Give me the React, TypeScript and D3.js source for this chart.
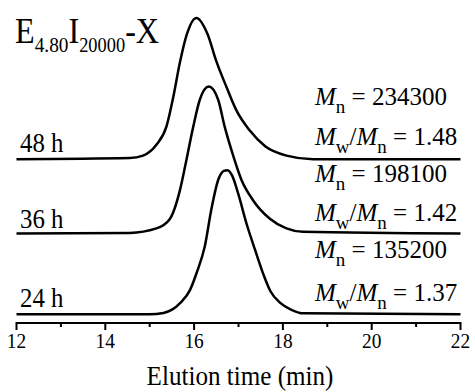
import * as d3 from "d3"

// elution time (min) and normalised RI signal for each sample
const t24 = [12, 15.0, 15.31, 15.69, 15.91, 16.06, 16.24, 16.39, 16.54, 16.67, 16.75, 16.86, 16.99, 17.18, 17.37, 17.57, 17.72, 17.94, 18.17, 18.47, 22]
const s24 = [0, 0, 0.01, 0.08, 0.17, 0.29, 0.47, 0.73, 0.93, 0.995, 1.0, 0.96, 0.84, 0.63, 0.45, 0.27, 0.16, 0.08, 0.035, 0.007, 0]
const t36 = [12, 14.55, 15.15, 15.45, 15.68, 15.8, 15.98, 16.13, 16.33, 16.54, 16.69, 16.84, 17.07, 17.33, 17.7, 18.08, 18.45, 22]
const s36 = [0, 0.005, 0.036, 0.1, 0.3, 0.47, 0.74, 0.93, 1.02, 0.93, 0.74, 0.58, 0.37, 0.23, 0.105, 0.036, 0.012, 0]
const t48 = [12, 14.55, 14.85, 15.15, 15.38, 15.53, 15.68, 15.83, 16.05, 16.3, 16.5, 16.73, 16.95, 17.25, 17.6, 18.08, 18.68, 22]
const s48 = [0, 0.008, 0.025, 0.1, 0.23, 0.43, 0.67, 0.86, 0.98, 0.87, 0.68, 0.5, 0.34, 0.2, 0.09, 0.025, 0, 0]

const labels = ["24 h", "36 h", "48 h"]
const offsets = [0, 0.56, 1.076]
const mnValues = ["135200", "198100", "234300"]
const pdiValues = ["1.37", "1.42", "1.48"]
const xTicks = [12, 14, 16, 18, 20, 22]
const xMinor = [13, 15, 17, 19, 21]

const W = 475
const H = 392
const FONT = "Liberation Serif, Times New Roman, serif"

const x = d3.scaleLinear().domain([12, 22]).range([16.5, 460.5])
const y = d3.scaleLinear().domain([-0.06, 2.18]).range([323, 0])

type Pt = { t: number; v: number }
const series: Pt[][] = [
  t24.map((t, i) => ({ t, v: s24[i] })),
  t36.map((t, i) => ({ t, v: s36[i] })),
  t48.map((t, i) => ({ t, v: s48[i] })),
]

// text with a horizontal squeeze factor
function T({ x, y, size, children, anchor = "start", sx = 1 }: any) {
  return (
    <g transform={`translate(${x},${y}) scale(${sx},1)`}>
      <text x={0} y={0} fontSize={size} textAnchor={anchor} fontFamily={FONT} fill="#000">
        {children}
      </text>
    </g>
  )
}

export default function App() {
  const line = (off: number) =>
    d3.line<Pt>().x(d => x(d.t)).y(d => y(d.v + off)).curve(d3.curveMonotoneX)

  // baselines of the annotation rows
  const mnY = [258, 182, 105]
  const pdiY = [301, 221, 145]
  const labY = [307, 228, 152]

  return (
    <svg width={W} height={H} style={{ position: "absolute", left: 0, top: 0, background: "#fff" }}>
      {series.map((d, i) => (
        <path key={i} d={line(offsets[i])(d) || ""} fill="none" stroke="#000" strokeWidth={2.5} strokeLinejoin="round" />
      ))}

      {labels.map((l, i) => (
        <T key={l} x={20} y={labY[i]} size={27} sx={0.92}>{l}</T>
      ))}

      {mnValues.map((m, i) => (
        <T key={m} x={315} y={mnY[i]} size={25}>
          <tspan fontStyle="italic">M</tspan>
          <tspan fontSize={19} dy={8}>n</tspan>
          <tspan dy={-8}> = {m}</tspan>
        </T>
      ))}
      {pdiValues.map((p, i) => (
        <T key={p} x={315} y={pdiY[i]} size={25}>
          <tspan fontStyle="italic">M</tspan>
          <tspan fontSize={19} dy={8}>w</tspan>
          <tspan dy={-8}>/</tspan>
          <tspan fontStyle="italic">M</tspan>
          <tspan fontSize={19} dy={8}>n</tspan>
          <tspan dy={-8}> = {p}</tspan>
        </T>
      ))}

      <T x={15} y={43} size={35} sx={0.92}>
        E<tspan fontSize={21} dy={9}>4.80</tspan>
        <tspan dy={-9}>I</tspan>
        <tspan fontSize={20} dy={9}>20000</tspan>
        <tspan dy={-9}>-X</tspan>
      </T>

      {/* x axis */}
      <line x1={x(12)} x2={x(22)} y1={323} y2={323} stroke="#000" strokeWidth={2} />
      {xTicks.map(t => (
        <g key={t}>
          <line x1={x(t)} x2={x(t)} y1={322} y2={330} stroke="#000" strokeWidth={2} />
          <T x={x(t)} y={348} size={22} anchor="middle" sx={0.88}>{t}</T>
        </g>
      ))}
      {xMinor.map(t => (
        <line key={t} x1={x(t)} x2={x(t)} y1={322} y2={327} stroke="#000" strokeWidth={2} />
      ))}
      <T x={240} y={385} size={27} anchor="middle" sx={0.93}>Elution time (min)</T>
    </svg>
  )
}
